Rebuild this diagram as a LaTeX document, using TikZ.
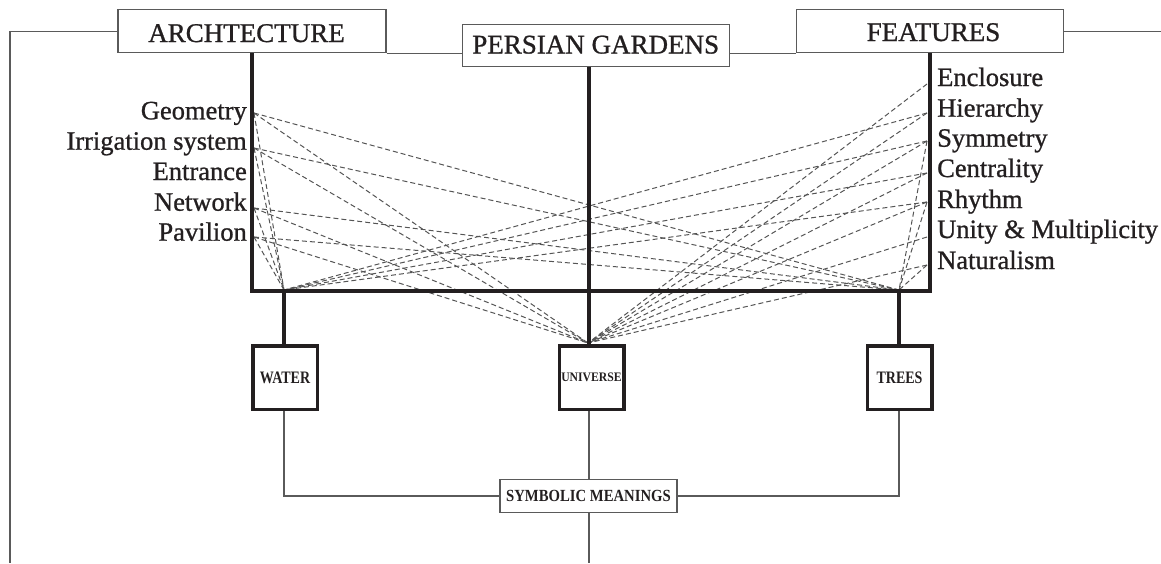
\documentclass[tikz,border=0pt]{standalone}
\usepackage{fontspec}
\setmainfont{Liberation Serif}
\newfontfamily\heavyserif{Liberation Serif}[FakeBold=0.9]
\usepackage{graphicx}
\definecolor{ink}{HTML}{231F20}
\definecolor{frame}{HTML}{5A5A5A}
\definecolor{dashc}{HTML}{555555}
\begin{document}
\begin{tikzpicture}[x=1pt,y=-1pt,
  titlebox/.style={draw=frame, line width=1.4pt, fill=white, inner sep=0pt, text=ink,
    font=\heavyserif\fontsize{27}{30}\selectfont, text depth=0pt},
  thickbox/.style={draw=ink, line width=3.5pt, fill=white, inner sep=0pt, text=ink,
    minimum width=64.5pt, minimum height=63.5pt, font=\bfseries\fontsize{17.5}{20}\selectfont},
  thinbox/.style={draw=frame, line width=1.2pt, fill=white, inner sep=0pt, text=ink,
    minimum width=177pt, minimum height=33pt, font=\bfseries\fontsize{17}{20}\selectfont},
  lbl/.style={inner sep=0pt, text=ink, font=\heavyserif\fontsize{26.5}{30}\selectfont},
  thinline/.style={draw=frame, line width=1.2pt},
  thickline/.style={draw=ink, line width=3.5pt},
  link/.style={draw=dashc, line width=1pt, dash pattern=on 5pt off 3pt}
]
\useasboundingbox (0,0) rectangle (1161,563);

% ---------- anchor coordinates ----------
\coordinate (hubW) at (284,290);
\coordinate (hubU) at (588,343);
\coordinate (hubT) at (899,290);

\coordinate (aGeo) at (254,113);
\coordinate (aIrr) at (254,148);
\coordinate (aNet) at (254,208);
\coordinate (aPav) at (254,237);

\coordinate (aEnc) at (927,84);
\coordinate (aHie) at (927,113);
\coordinate (aSym) at (927,141);
\coordinate (aCen) at (927,173);
\coordinate (aRhy) at (927,202);
\coordinate (aUni) at (927,237);
\coordinate (aNat) at (927,265);

% ---------- dashed relations ----------
\foreach \s in {aGeo,aIrr,aNet,aPav}{
  \draw[link] (\s) -- (hubW);
  \draw[link] (\s) -- (hubU);
  \draw[link] (\s) -- (hubT);
}
\draw[link] (aEnc) -- (hubU);
\draw[link] (aHie) -- (hubW);
\draw[link] (aHie) -- (hubU);
\draw[link] (aSym) -- (hubW);
\draw[link] (aSym) -- (hubU);
\draw[link] (aSym) -- (hubT);
\draw[link] (aCen) -- (hubW);
\draw[link] (aCen) -- (hubU);
\draw[link] (aRhy) -- (hubW);
\draw[link] (aRhy) -- (hubU);
\draw[link] (aRhy) -- (hubT);
\draw[link] (aUni) -- (hubU);
\draw[link] (aNat) -- (hubU);
\draw[link] (aNat) -- (hubT);

% ---------- outer thin frame lines ----------
\coordinate (leftTop) at (10,31.5);
\coordinate (leftBot) at (10,563);
\coordinate (rightEnd) at (1161,31.5);
\coordinate (pgBot) at (589,563);

% ---------- top boxes ----------
\node[titlebox, minimum width=268pt, minimum height=43pt, text height=22pt] (arch) at (252,31) {\hspace*{-11pt}ARCHTECTURE};
\node[titlebox, minimum width=267pt, minimum height=42.5pt, text height=16pt] (pg) at (595.7,45.5) {PERSIAN GARDENS};
\node[titlebox, minimum width=267pt, minimum height=43pt, text height=20pt] (feat) at (930,31) {FEATURES\hspace*{-7pt}};

\draw[thinline] (arch.west) ++(0,0.5) coordinate (archW) -- (leftTop) -- (leftBot);
\draw[thinline] (feat.east) ++(0,0.5) coordinate (featE) -- (rightEnd);
\draw[thinline] (arch.south east) -- (pg.west |- arch.south east);
\draw[thinline] (pg.east |- feat.south west) -- (feat.south west);

% ---------- thick frame ----------
\coordinate (jL) at (252,291);
\coordinate (jR) at (930,291);
\coordinate (jC) at (589,291);
\coordinate (jW) at (284,291);
\coordinate (jT) at (899,291);
\draw[thickline] (arch.south -| jL) -- (jL) -- (jR) -- (feat.south -| jR);
\draw[thickline] (pg.south -| jC) -- (jC);

% ---------- lower boxes ----------
\node[thickbox] (water) at (285,377.5) {\scalebox{0.8}[1]{WATER}};
\node[thickbox] (univ) at (591.5,377.5) {\fontsize{13}{15}\selectfont\scalebox{0.9}[1]{UNIVERSE}};
\node[thickbox] (trees) at (899.5,377.5) {\scalebox{0.8}[1]{TREES}};
\node[thinbox] (sym) at (588.5,496) {\scalebox{0.865}[1]{SYMBOLIC MEANINGS}};

\draw[thickline] (jW) -- (water.north -| jW);
\draw[thickline] (jC) -- (univ.north -| jC);
\draw[thickline] (jT) -- (trees.north -| jT);

\draw[thinline] (water.south -| jW) |- (sym.west);
\draw[thinline] (trees.south -| jT) |- (sym.east);
\draw[thinline] (univ.south -| jC) -- (sym.north -| jC);
\draw[thinline] (sym.south -| jC) -- (pgBot);

% ---------- labels ----------
\node[lbl, anchor=base east] (geo) at (247,119.3) {Geometry};
\node[lbl, anchor=base east] (irr) at (247,149.7) {Irrigation system};
\node[lbl, anchor=base east] (ent) at (247,180) {Entrance};
\node[lbl, anchor=base east] (net) at (247,210.7) {Network};
\node[lbl, anchor=base east] (pav) at (247,240.7) {Pavilion};

\node[lbl, anchor=base west] (enc) at (937,86) {Enclosure};
\node[lbl, anchor=base west] (hie) at (937,116.7) {Hierarchy};
\node[lbl, anchor=base west] (symm) at (937,146.7) {Symmetry};
\node[lbl, anchor=base west] (cen) at (937,177) {Centrality};
\node[lbl, anchor=base west] (rhy) at (937,208) {Rhythm};
\node[lbl, anchor=base west] (uni) at (937,238) {Unity \& Multiplicity};
\node[lbl, anchor=base west] (nat) at (937,269) {Naturalism};
\end{tikzpicture}
\end{document}
